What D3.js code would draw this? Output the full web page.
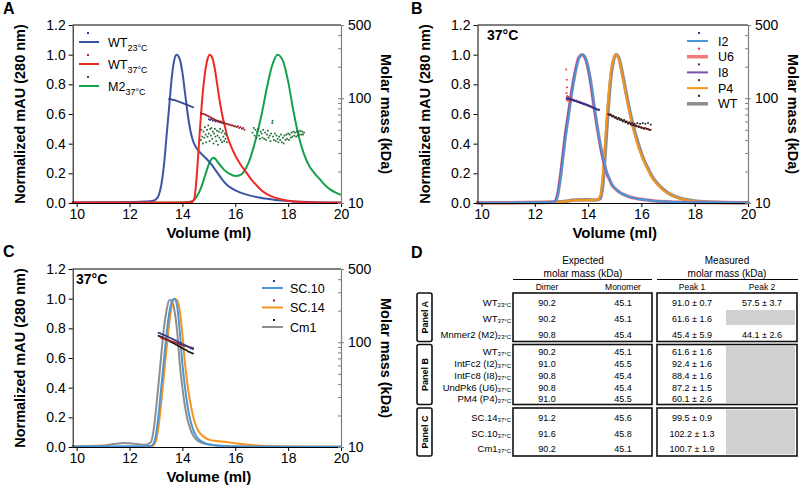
<!DOCTYPE html>
<html><head><meta charset="utf-8">
<script src="https://cdn.jsdelivr.net/npm/d3@7"></script>
<style>
body{margin:0;background:#fff;}
svg{display:block;font-family:"Liberation Sans",Arial,Helvetica,sans-serif;}
</style></head><body>
<svg id="fig" width="800" height="490"></svg>
<script>
// ---------- axis ticks ----------
const volTicks = [10,12,14,16,18,20];
const absTicks = [0,0.2,0.4,0.6,0.8,1.0,1.2];
const massMajor = [10,100,500];
const massMinor = [20,30,40,50,60,70,80,90,200,300,400];

// ---------- Panel A traces (volume ml, normalized mAU) ----------
const traceA_WT23 = [[9.85,0.004],[11,0.005],[12,0.007],[12.6,0.01],[12.9,0.015],[13.0,0.025],[13.1,0.05],[13.2,0.12],[13.3,0.25],[13.4,0.45],[13.5,0.65],[13.6,0.85],[13.7,0.97],[13.78,1.0],[13.9,0.97],[14.0,0.88],[14.1,0.74],[14.2,0.6],[14.3,0.49],[14.4,0.42],[14.5,0.38],[14.7,0.335],[14.9,0.3],[15.1,0.26],[15.3,0.21],[15.5,0.16],[15.7,0.12],[15.9,0.095],[16.2,0.07],[16.6,0.048],[17.0,0.033],[17.5,0.021],[18.0,0.013],[18.5,0.008],[19.0,0.005],[20,0.003]];
const traceA_WT37 = [[9.85,0.003],[12,0.003],[13,0.003],[14,0.004],[14.35,0.006],[14.45,0.03],[14.55,0.2],[14.65,0.46],[14.75,0.7],[14.85,0.87],[14.95,0.97],[15.03,1.0],[15.1,0.99],[15.2,0.93],[15.3,0.82],[15.4,0.7],[15.5,0.6],[15.6,0.52],[15.7,0.45],[15.8,0.4],[16.0,0.32],[16.2,0.26],[16.4,0.21],[16.6,0.16],[16.8,0.12],[17.0,0.085],[17.2,0.06],[17.5,0.036],[18.0,0.015],[18.5,0.006],[19.0,0.003],[20,0.002]];
const traceA_M2 = [[9.85,0.001],[13,0.001],[14.0,0.003],[14.2,0.006],[14.4,0.015],[14.55,0.045],[14.7,0.1],[14.85,0.18],[15.0,0.26],[15.1,0.295],[15.18,0.305],[15.3,0.285],[15.45,0.25],[15.6,0.22],[15.8,0.195],[16.0,0.182],[16.15,0.185],[16.3,0.205],[16.5,0.27],[16.7,0.38],[16.9,0.52],[17.0,0.6],[17.2,0.78],[17.4,0.93],[17.6,1.0],[17.8,0.96],[18.0,0.82],[18.2,0.62],[18.4,0.45],[18.6,0.33],[18.8,0.25],[19.0,0.2],[19.2,0.16],[19.4,0.12],[19.6,0.09],[19.8,0.07],[20,0.055]];

// Panel A molar mass (volume ml, kDa)
const massA_WT23 = [[13.5,98],[13.55,98],[13.6,97],[13.65,96],[13.7,96],[13.75,95],[13.8,94],[13.85,93],[13.9,92],[13.95,91],[14.0,90],[14.05,89],[14.1,88],[14.15,87],[14.2,86],[14.25,85],[14.3,84],[14.35,83],[14.4,82],[15.0,63],[15.05,62],[15.1,63],[15.15,61],[15.2,62],[15.25,60],[15.3,61],[15.35,60],[15.4,59],[15.45,60],[15.5,58]];
const massA_WT37 = [[14.7,72],[14.75,71],[14.8,71],[14.85,70],[14.9,69],[14.95,68],[15.0,67],[15.05,66],[15.1,65],[15.15,64],[15.2,63],[15.25,62],[15.3,61],[15.35,61],[15.4,60],[15.45,59],[15.5,59],[15.55,58],[15.6,58],[15.65,57],[15.7,57],[15.75,56],[15.8,56],[15.85,55],[15.9,55],[15.95,54],[16.0,54],[16.05,53],[16.1,54],[16.15,52],[16.2,53],[16.25,51],[16.3,52],[16.35,50]];
const massA_M2 = [[14.7,40],[14.72,50],[14.75,43],[14.78,37],[14.8,48],[14.83,42],[14.85,53],[14.88,45],[14.9,38],[14.93,50],[14.95,43],[14.98,55],[15.0,46],[15.03,39],[15.05,51],[15.08,44],[15.1,52],[15.13,41],[15.15,48],[15.18,37],[15.2,46],[15.23,51],[15.25,43],[15.28,39],[15.3,49],[15.33,44],[15.35,36],[15.38,48],[15.4,42],[15.43,51],[15.45,40],[15.48,47],[15.5,38],[15.53,49],[15.55,43],[15.58,39],[15.6,46],[15.63,41],[15.65,45],[15.68,38],
[16.65,47],[16.7,52],[16.73,44],[16.76,50],[16.8,42],[16.83,48],[16.86,51],[16.9,44],[16.93,41],[16.96,48],[17.0,46],[17.03,42],[17.06,50],[17.1,41],[17.13,47],[17.16,40],[17.2,45],[17.23,49],[17.26,42],[17.3,44],[17.33,39],[17.36,46],[17.4,58],[17.41,61],[17.43,43],[17.46,40],[17.5,46],[17.53,39],[17.56,44],[17.6,41],[17.63,38],[17.66,43],[17.7,40],[17.73,45],[17.76,38],[17.8,42],[17.83,37],[17.86,44],[17.9,40],[17.93,45],[17.96,41],[18.0,46],[18.03,40],[18.06,45],[18.1,42],[18.13,47],[18.16,43],[18.2,48],[18.23,44],[18.26,47],[18.3,43],[18.33,48],[18.36,44],[18.4,48],[18.43,45],[18.46,49],[18.5,45],[18.53,48],[18.56,45],[18.6,47]];

// ---------- Panel B traces ----------
const volB1 = [9.85,12,12.6,12.75,12.85,12.95,13.05,13.15,13.25,13.35,13.45,13.55,13.65,13.78,13.9,14.0,14.1,14.2,14.3,14.4,14.5,14.6,14.7,14.8,14.9,15.0,15.2,15.5,16,16.5,17,18,20];
const absB_I8 = [0.002,0.003,0.005,0.012,0.06,0.18,0.33,0.48,0.6,0.72,0.83,0.92,0.98,1.0,0.97,0.9,0.8,0.67,0.55,0.44,0.34,0.26,0.2,0.16,0.12,0.1,0.07,0.045,0.025,0.014,0.008,0.004,0.002];
const absB_U6 = [0.002,0.003,0.005,0.01,0.05,0.16,0.31,0.46,0.58,0.71,0.82,0.91,0.98,1.0,0.975,0.91,0.81,0.68,0.56,0.45,0.35,0.27,0.2,0.16,0.12,0.1,0.07,0.045,0.025,0.014,0.008,0.004,0.002];
const absB_I2 = [0.002,0.003,0.004,0.008,0.04,0.14,0.28,0.43,0.56,0.69,0.8,0.9,0.97,1.0,0.98,0.92,0.83,0.7,0.58,0.46,0.36,0.28,0.21,0.165,0.125,0.1,0.07,0.045,0.025,0.014,0.008,0.004,0.002];
const volB2 = [9.85,12,13,13.5,14,14.3,14.45,14.55,14.65,14.75,14.85,14.95,15.05,15.15,15.3,15.45,15.6,15.75,15.9,16.05,16.2,16.4,16.6,16.8,17,17.3,17.6,18,18.5,19,20];
const absB_P4 = [0.002,0.003,0.008,0.018,0.02,0.02,0.05,0.2,0.45,0.7,0.88,0.97,1.0,0.97,0.84,0.7,0.57,0.46,0.37,0.3,0.24,0.17,0.125,0.09,0.065,0.04,0.024,0.012,0.005,0.003,0.002];
const absB_WT = [0.002,0.003,0.008,0.02,0.022,0.02,0.03,0.12,0.36,0.63,0.84,0.96,1.0,0.98,0.86,0.72,0.59,0.48,0.39,0.31,0.25,0.18,0.13,0.095,0.068,0.042,0.025,0.013,0.006,0.003,0.002];

const massB_I2 = [[13.2,101],[13.25,100],[13.3,99],[13.35,98],[13.4,97],[13.45,96],[13.5,95],[13.55,94],[13.6,93],[13.65,92],[13.7,91],[13.75,90],[13.8,89],[13.85,88],[13.9,87],[13.95,86],[14.0,85],[14.05,84],[14.1,83],[14.15,82],[14.2,81],[14.25,80],[14.3,79],[14.35,78],[14.4,77]];
const massB_U6 = [[13.18,188],[13.2,150],[13.21,127],[13.19,112],[13.22,105],[13.2,97],[13.24,95],[13.27,103],[13.3,98],[13.33,94],[13.36,100],[13.4,96],[13.45,97],[13.5,94],[13.55,95],[13.6,92],[13.65,93],[13.7,90],[13.75,91],[13.8,89],[13.85,89],[13.9,88],[13.95,87],[14.0,86],[14.05,85],[14.1,84],[14.15,82],[14.2,81],[14.25,80],[14.3,79]];
const massB_I8 = [[13.2,99],[13.25,99],[13.3,98],[13.35,97],[13.4,96],[13.45,95],[13.5,94],[13.55,94],[13.6,93],[13.65,92],[13.7,91],[13.75,90],[13.8,89],[13.85,88],[13.9,87],[13.95,86],[14.0,85],[14.05,84],[14.1,83],[14.15,82],[14.2,81],[14.25,80],[14.3,79],[14.35,78],[14.4,78]];
const massB_P4 = [[14.75,71],[14.8,70],[14.85,69],[14.9,68],[14.95,67],[15.0,66],[15.05,65],[15.1,64],[15.15,64],[15.2,63],[15.25,62],[15.3,61],[15.35,61],[15.4,60],[15.45,59],[15.5,58],[15.55,58],[15.6,57],[15.65,56],[15.7,56],[15.75,55],[15.8,55],[15.85,54],[15.9,54],[15.95,53],[16.0,53],[16.05,52],[16.1,52],[16.15,52],[16.2,51],[16.25,51],[16.3,50],[16.35,50]];
const massB_WT = [[14.8,69],[14.85,70],[14.9,67],[14.95,68],[15.0,65],[15.05,66],[15.1,63],[15.15,65],[15.2,62],[15.25,63],[15.3,60],[15.35,62],[15.4,59],[15.45,60],[15.5,57],[15.55,59],[15.6,56],[15.65,58],[15.7,55],[15.75,57],[15.8,54],[15.85,58],[15.9,53],[15.95,57],[16.0,52],[16.05,58],[16.1,51],[16.15,57],[16.2,51],[16.25,58],[16.3,50],[16.35,56]];

// ---------- Panel C traces ----------
const volC = [9.85,11,11.5,11.8,12.2,12.6,12.8,12.9,13.0,13.1,13.2,13.3,13.4,13.5,13.6,13.7,13.8,13.9,14.0,14.1,14.2,14.3,14.4,14.5,14.6,14.8,15.0,15.3,15.6,16,17,18,20];
const absC_Cm1 = [0.003,0.01,0.022,0.027,0.022,0.015,0.03,0.1,0.25,0.43,0.62,0.8,0.92,0.99,0.99,0.92,0.78,0.56,0.4,0.27,0.18,0.12,0.08,0.055,0.04,0.025,0.016,0.01,0.007,0.005,0.003,0.002,0.002];
const absC_SC10 = [0.003,0.003,0.004,0.005,0.005,0.005,0.006,0.02,0.08,0.22,0.4,0.58,0.76,0.9,0.98,1.0,0.95,0.78,0.56,0.4,0.27,0.18,0.12,0.08,0.055,0.03,0.018,0.01,0.006,0.004,0.003,0.002,0.002];
const absC_SC14 = [0.002,0.002,0.002,0.002,0.002,0.002,0.003,0.01,0.04,0.14,0.3,0.48,0.66,0.83,0.95,1.0,0.99,0.92,0.76,0.56,0.41,0.3,0.21,0.15,0.11,0.07,0.05,0.04,0.035,0.025,0.008,0.003,0.002];

const massC_SC10 = [[13.1,123],[13.15,122],[13.2,120],[13.25,119],[13.3,117],[13.35,116],[13.4,114],[13.45,113],[13.5,111],[13.55,110],[13.6,108],[13.65,107],[13.7,105],[13.75,104],[13.8,102],[13.85,101],[13.9,99],[13.95,98],[14.0,96],[14.05,95],[14.1,94],[14.15,92],[14.2,91],[14.25,90],[14.3,88],[14.35,87],[14.4,86]];
const massC_SC14 = [[13.2,110],[13.25,109],[13.3,108],[13.35,107],[13.4,106],[13.45,105],[13.5,104],[13.55,103],[13.6,102],[13.65,101],[13.7,100],[13.75,99],[13.8,98],[13.85,97],[13.9,96],[13.95,95],[14.0,94],[14.05,93],[14.1,92],[14.15,92],[14.2,91],[14.25,90],[14.3,89],[14.35,89],[14.4,88]];
const massC_Cm1 = [[13.1,115],[13.15,114],[13.2,112],[13.25,111],[13.3,109],[13.35,108],[13.4,106],[13.45,105],[13.5,103],[13.55,101],[13.6,100],[13.65,98],[13.7,97],[13.75,95],[13.8,94],[13.85,92],[13.9,91],[13.95,89],[14.0,88],[14.05,86],[14.1,85],[14.15,84],[14.2,82],[14.25,81],[14.3,80],[14.35,79],[14.4,78]];

// ---------- Table D ----------
const tblGroups = ["Panel A","Panel B","Panel C"];
const tblGroupRows = [[0,1,2],[3,4,5,6,7],[8,9,10]];
const tblNames = ["WT","WT","Mnmer2 (M2)","WT","IntFc2 (I2)","IntFc8 (I8)","UndPk6 (U6)","PM4 (P4)","SC.14","SC.10","Cm1"];
const tblTemps = ["23°C","37°C","23°C","37°C","37°C","37°C","37°C","37°C","37°C","37°C","37°C"];
const tblDimer = ["90.2","90.2","90.8","90.2","91.0","90.8","90.8","91.0","91.2","91.6","90.2"];
const tblMonomer = ["45.1","45.1","45.4","45.1","45.5","45.4","45.4","45.5","45.6","45.8","45.1"];
const tblPeak1 = ["91.0 ± 0.7","61.6 ± 1.6","45.4 ± 5.9","61.6 ± 1.6","92.4 ± 1.6","88.4 ± 1.6","87.2 ± 1.5","60.1 ± 2.6","99.5 ± 0.9","102.2 ± 1.3","100.7 ± 1.9"];
const tblPeak2 = ["57.5 ± 3.7","","44.1 ± 2.6","","","","","","","",""];

// ---------- drawing ----------
const svg = d3.select("#fig");
const FONT = '"Liberation Sans",Arial,Helvetica,sans-serif';
const volDomain = [9.85,20];

function pairs(vols, vals){ return vols.map((v,i)=>[v, vals[i]]); }

function drawPanel(p, curves, dots){
  const g = svg.append("g");
  const x = d3.scaleLinear().domain(volDomain).range([p.x0,p.x1]);
  const y = d3.scaleLinear().domain([0,1.2]).range([p.yb,p.yt]);
  const yR = d3.scaleLog().domain([10,500]).range([p.yb,p.yt]);
  const line = d3.line().x(d=>x(d[0])).y(d=>y(d[1])).curve(d3.curveMonotoneX);
  curves.forEach(c=>{
    g.append("path").attr("d", line(c.data)).attr("fill","none")
      .attr("stroke", c.color).attr("stroke-width", c.w).attr("stroke-opacity", c.op||1)
      .attr("stroke-linejoin","round").attr("stroke-linecap","round");
  });
  dots.forEach(s=>{
    g.append("g").selectAll("rect").data(s.data).join("rect")
      .attr("x", d=>x(d[0])-0.85).attr("y", d=>yR(d[1])-0.85)
      .attr("width",1.7).attr("height",1.7).attr("fill", s.color);
  });
  // top frame
  g.append("line").attr("x1",p.x0).attr("x2",p.x1).attr("y1",p.yt).attr("y2",p.yt)
    .attr("stroke","#000").attr("stroke-width",1);
  // left axis
  const gl = g.append("g").attr("transform",`translate(${p.x0},0)`)
    .call(d3.axisLeft(y).tickValues(absTicks).tickFormat(d3.format(".1f")).tickSize(4).tickSizeOuter(0).tickPadding(3));
  // bottom axis
  const gb = g.append("g").attr("transform",`translate(0,${p.yb})`)
    .call(d3.axisBottom(x).tickValues(volTicks).tickFormat(d3.format("d")).tickSize(4).tickSizeOuter(0).tickPadding(2));
  // right axis
  const gr = g.append("g").attr("transform",`translate(${p.x1},0)`)
    .call(d3.axisRight(yR).tickValues(massMajor).tickFormat(d3.format("d")).tickSize(3).tickSizeOuter(0).tickPadding(4));
  const grm = g.append("g").attr("transform",`translate(${p.x1},0)`)
    .call(d3.axisRight(yR).tickValues(massMajor.concat(massMinor)).tickFormat("").tickSize(-3).tickSizeOuter(0));
  grm.select(".domain").remove();
  [gl,gb].forEach(a=>{
    a.select(".domain").attr("stroke","#000");
    a.selectAll("line").attr("stroke","#000");
  });
  [gr,grm].forEach(a=>{
    a.selectAll(".domain").attr("stroke","#7f7f7f").attr("stroke-width",1.2);
    a.selectAll("line").attr("stroke","#7f7f7f");
  });
  g.selectAll(".tick text").attr("font-family",FONT).attr("font-size",14).attr("fill","#000");
  // titles
  const ym = (p.yt+p.yb)/2;
  g.append("text").attr("transform",`translate(${p.x0-48},${ym}) rotate(-90)`)
    .attr("text-anchor","middle").attr("font-weight","bold").attr("font-size",14.5)
    .text("Normalized mAU (280 nm)");
  g.append("text").attr("transform",`translate(${p.x1+40},${ym}) rotate(90)`)
    .attr("text-anchor","middle").attr("font-weight","bold").attr("font-size",14.5)
    .text("Molar mass (kDa)");
  g.append("text").attr("x",x(15)).attr("y",p.yb+35)
    .attr("text-anchor","middle").attr("font-weight","bold").attr("font-size",15)
    .text("Volume (ml)");
  return g;
}

function legend(items, lx0, lx1, dx, tx, y0, dy, dotOff){
  const g = svg.append("g");
  items.forEach((it,i)=>{
    const yy = y0 + i*dy;
    g.append("rect").attr("x",dx-1).attr("y",yy-dotOff-1).attr("width",2).attr("height",2).attr("fill",it.dot);
    g.append("line").attr("x1",lx0).attr("x2",lx1).attr("y1",yy).attr("y2",yy)
      .attr("stroke",it.line).attr("stroke-width",it.w||2).attr("stroke-opacity",it.op||1);
    const t = g.append("text").attr("x",tx).attr("y",yy+4.5).attr("font-size",12.5);
    t.append("tspan").text(it.name);
    if(it.sub) t.append("tspan").attr("dy",4).attr("font-size",9).text(it.sub);
  });
}

function letter(ch, x, y){
  svg.append("text").attr("x",x).attr("y",y).attr("font-weight","bold").attr("font-size",16).text(ch);
}

// Panel A
const pA = {x0:72.7,x1:341,yt:25,yb:203};
drawPanel(pA, [
  {data:traceA_M2, color:"#14a04c", w:2},
  {data:traceA_WT23, color:"#3a54a6", w:2},
  {data:traceA_WT37, color:"#ee2a24", w:2}
],[
  {data:massA_M2, color:"#1e6b32"},
  {data:massA_WT23, color:"#2b3990"},
  {data:massA_WT37, color:"#a01d22"}
]);
legend([
  {name:"WT", sub:"23°C", dot:"#2b3990", line:"#3a54a6"},
  {name:"WT", sub:"37°C", dot:"#c0282a", line:"#ee2a24"},
  {name:"M2", sub:"37°C", dot:"#1e6b32", line:"#14a04c"}
], 79, 99, 88, 108, 42, 22, 9);
letter("A", 3, 14);

// Panel B
const pB = {x0:477.5,x1:748,yt:25,yb:203};
drawPanel(pB, [
  {data:pairs(volB2,absB_WT), color:"#8e8e8e", w:3.5},
  {data:pairs(volB2,absB_P4), color:"#f7941d", w:2},
  {data:pairs(volB1,absB_U6), color:"#f27a7a", w:3.5, op:0.9},
  {data:pairs(volB1,absB_I8), color:"#7a4fae", w:2},
  {data:pairs(volB1,absB_I2), color:"#4b96d6", w:2}
],[
  {data:massB_U6, color:"#ee3030"},
  {data:massB_I8, color:"#4b2e83"},
  {data:massB_I2, color:"#2b3990"},
  {data:massB_P4, color:"#8b1a1a"},
  {data:massB_WT, color:"#222"}
]);
legend([
  {name:"I2", dot:"#2b3990", line:"#4b96d6"},
  {name:"U6", dot:"#ee3030", line:"#f27a7a", w:3.5},
  {name:"I8", dot:"#4b2e83", line:"#7a4fae"},
  {name:"P4", dot:"#8b1a1a", line:"#f7941d"},
  {name:"WT", dot:"#222", line:"#8e8e8e", w:3.5}
], 687, 708, 699, 718, 41, 15.7, 8);
svg.append("text").attr("x",487).attr("y",40).attr("font-weight","bold").attr("font-size",14).text("37°C");
letter("B", 411, 14);

// Panel C
const pC = {x0:72.7,x1:341,yt:269,yb:447};
drawPanel(pC, [
  {data:pairs(volC,absC_Cm1), color:"#8e8e8e", w:2},
  {data:pairs(volC,absC_SC14), color:"#f7941d", w:2},
  {data:pairs(volC,absC_SC10), color:"#4b96d6", w:2}
],[
  {data:massC_Cm1, color:"#111"},
  {data:massC_SC14, color:"#a01d22"},
  {data:massC_SC10, color:"#2b3990"}
]);
legend([
  {name:"SC.10", dot:"#2b3990", line:"#4b96d6"},
  {name:"SC.14", dot:"#a01d22", line:"#f7941d"},
  {name:"Cm1", dot:"#111", line:"#8e8e8e"}
], 262, 283, 274, 290, 288, 19.5, 7);
svg.append("text").attr("x",76).attr("y",284).attr("font-weight","bold").attr("font-size",14).text("37°C");
letter("C", 3, 257);

// Table D
letter("D", 411, 258);
const T = svg.append("g").attr("font-family",FONT);
const colX = {dimer:547, mono:623, p1:692, p2:762};
const boxExp = [513,652], boxMea = [657,797], boxLab = [417,432];
const groupY = [[293,341.5],[344.5,404.5],[408,456]];
const rowY = [306,322,338,354.5,366.5,378.5,391,402,420.5,437,451.5];

T.append("text").attr("x",583).attr("y",264).attr("text-anchor","middle").attr("font-size",10).text("Expected");
T.append("text").attr("x",583).attr("y",277).attr("text-anchor","middle").attr("font-size",10).text("molar mass (kDa)");
T.append("text").attr("x",727).attr("y",264).attr("text-anchor","middle").attr("font-size",10).text("Measured");
T.append("text").attr("x",727).attr("y",277).attr("text-anchor","middle").attr("font-size",10).text("molar mass (kDa)");
T.append("line").attr("x1",boxExp[0]).attr("x2",boxExp[1]).attr("y1",279.5).attr("y2",279.5).attr("stroke","#000");
T.append("line").attr("x1",boxMea[0]).attr("x2",boxMea[1]+1).attr("y1",279.5).attr("y2",279.5).attr("stroke","#000");
[["Dimer",colX.dimer],["Monomer",colX.mono],["Peak 1",colX.p1],["Peak 2",colX.p2]].forEach(h=>{
  T.append("text").attr("x",h[1]).attr("y",290).attr("text-anchor","middle").attr("font-size",8.5).text(h[0]);
});

// gray cells
T.append("rect").attr("x",726).attr("y",310).attr("width",69).attr("height",15).attr("fill","#d0d0d0");
T.append("rect").attr("x",726).attr("y",346).attr("width",69).attr("height",57).attr("fill","#d0d0d0");
T.append("rect").attr("x",726).attr("y",409.5).attr("width",69).attr("height",45).attr("fill","#d0d0d0");

tblGroups.forEach((name,gi)=>{
  const [y0,y1] = groupY[gi];
  [boxExp, boxMea].forEach(b=>{
    T.append("rect").attr("x",b[0]).attr("y",y0).attr("width",b[1]-b[0]).attr("height",y1-y0)
      .attr("fill","none").attr("stroke","#111").attr("stroke-width",1.6);
  });
  T.append("rect").attr("x",boxLab[0]).attr("y",y0).attr("width",boxLab[1]-boxLab[0]).attr("height",y1-y0)
    .attr("rx",2).attr("fill","none").attr("stroke","#111").attr("stroke-width",1.6);
  T.append("text").attr("transform",`translate(${(boxLab[0]+boxLab[1])/2+3.2},${(y0+y1)/2}) rotate(-90)`)
    .attr("text-anchor","middle").attr("font-weight","bold").attr("font-size",9).text(name);
  tblGroupRows[gi].forEach(r=>{
    const yy = rowY[r];
    const t = T.append("text").attr("x",511).attr("y",yy).attr("text-anchor","end").attr("font-size",9.5);
    t.append("tspan").text(tblNames[r]);
    t.append("tspan").attr("dy",1).attr("font-size",6).text(tblTemps[r]);
    T.append("text").attr("x",colX.dimer).attr("y",yy).attr("text-anchor","middle").attr("font-size",9).text(tblDimer[r]);
    T.append("text").attr("x",colX.mono).attr("y",yy).attr("text-anchor","middle").attr("font-size",9).text(tblMonomer[r]);
    T.append("text").attr("x",colX.p1).attr("y",yy).attr("text-anchor","middle").attr("font-size",9).text(tblPeak1[r]);
    if(tblPeak2[r]) T.append("text").attr("x",colX.p2).attr("y",yy).attr("text-anchor","middle").attr("font-size",9).text(tblPeak2[r]);
  });
});
</script></body></html>
